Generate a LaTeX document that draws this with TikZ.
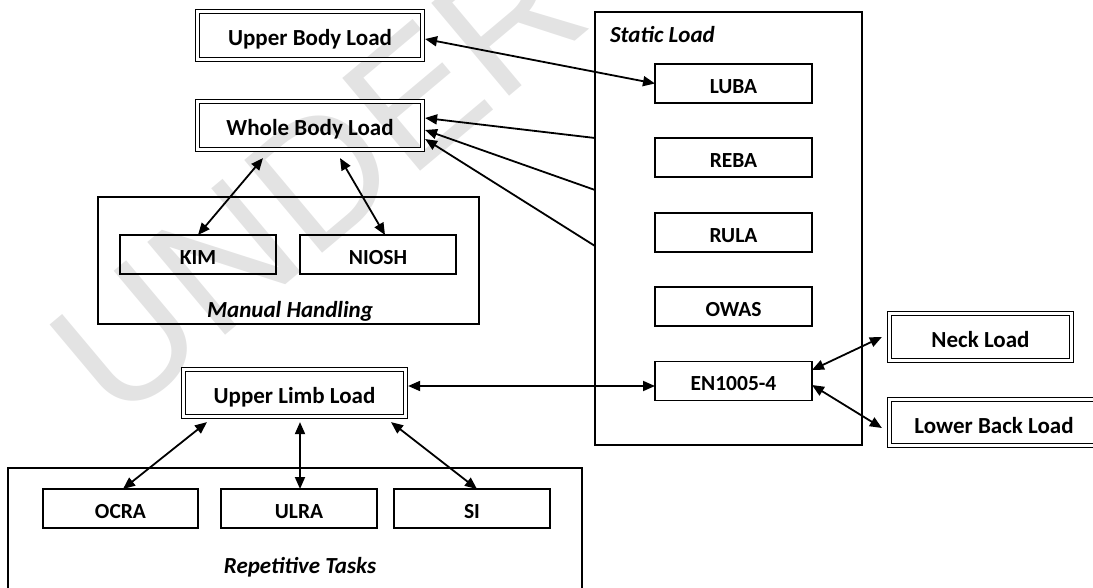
\documentclass[tikz,border=0pt]{standalone}
\usepackage{fontspec}
\setmainfont{Carlito}
\newfontfamily\markfont{Liberation Sans}
\usetikzlibrary{arrows.meta,calc}

\begin{document}
\begin{tikzpicture}[x=1pt,y=-1pt,
  every node/.style={inner sep=0pt,outer sep=0pt},
  loadbox/.style={draw,line width=1.5pt,double=white,double distance=2.2pt,
    outer sep=2.6pt,text height=21pt,text depth=0pt,
    font=\fontsize{23}{23}\selectfont\bfseries},
  methodbox/.style={draw,line width=1.5pt,minimum width=157pt,minimum height=39pt,
    text height=19.4pt,text depth=0pt,
    font=\fontsize{21.5}{21.5}\selectfont\bfseries},
  groupbox/.style={draw,line width=1.5pt},
  grouptitle/.style={font=\fontsize{23}{23}\selectfont\bfseries\itshape},
  watermark/.style={text=black!11,font=\markfont\fontsize{176}{176}\selectfont},
  link/.style={line width=1.8pt,{Triangle[length=12pt,width=10pt]}-{Triangle[length=12pt,width=10pt]}},
  feed/.style={line width=1.8pt,-{Triangle[length=12pt,width=10pt]}}
]
\clip (0,0) rectangle (1093,588);

% review stamp behind the diagram
\node[watermark,anchor=base west,rotate=40] (stamp) at (117,426) {UNDER PEER REVIEW};

% group frames
\node[groupbox,minimum width=267pt,minimum height=433pt] (static) at (728.5,228.5) {};
\node[groupbox,minimum width=381pt,minimum height=127pt] (manual) at (288.5,260.5) {};
\node[groupbox,minimum width=574pt,minimum height=140pt] (repet) at (295,538) {};

\node[grouptitle,anchor=base west] (statict) at (610,43) {Static Load};
\node[grouptitle,anchor=base] (manualt) at (290,317) {Manual Handling};
\node[grouptitle,anchor=base] (repett) at (300,573) {Repetitive Tasks};

% body-region loads
\node[loadbox,minimum width=225pt,minimum height=48pt] (ubl) at (310,35.5) {Upper Body Load};
\node[loadbox,minimum width=225pt,minimum height=48pt] (wbl) at (310,125.5) {Whole Body Load};
\node[loadbox,minimum width=222pt,minimum height=47pt] (ull) at (294.5,393) {Upper Limb Load};
\node[loadbox,minimum width=182pt,minimum height=47pt] (neck) at (980.5,337) {Neck Load};
\node[loadbox,minimum width=209pt,minimum height=46pt] (lbl) at (994,422.5) {Lower Back Load};

% assessment methods
\node[methodbox] (luba) at (733.5,83.5) {LUBA};
\node[methodbox] (reba) at (733.5,157.5) {REBA};
\node[methodbox] (rula) at (733.5,232.5) {RULA};
\node[methodbox] (owas) at (733.5,306.5) {OWAS};
\node[methodbox] (en) at (733.5,381) {EN1005-4};

\node[methodbox,minimum width=156pt] (kim) at (198,254.5) {KIM};
\node[methodbox,minimum width=156pt] (niosh) at (378,254.5) {NIOSH};

\node[methodbox,minimum width=155pt] (ocra) at (120.5,508.5) {OCRA};
\node[methodbox,minimum width=156pt] (ulra) at (299,508.5) {ULRA};
\node[methodbox,minimum width=156pt] (si) at (472,508.5) {SI};

% connectors
\draw[link] ([yshift=-3.5pt]ubl.east) -- (luba.west);
\draw[feed] ($(static.north west)+(0,126)$) -- ([yshift=7.5pt]wbl.east);
\draw[feed] ($(static.north west)+(0,178)$) -- ([yshift=-4.5pt]wbl.east);
\draw[feed] ($(static.north west)+(0,234)$) -- ([yshift=-13.5pt]wbl.east);

\draw[link] ([xshift=-47pt,yshift=-6pt]wbl.south) -- (kim.north);
\draw[link] ([xshift=30pt,yshift=-6pt]wbl.south) -- ([xshift=7pt]niosh.north);

\draw[link] ([yshift=-5pt]en.west) -- ([yshift=-5pt]en.west -| ull.east);
\draw[link] ([yshift=11pt]en.east) -- ([xshift=-5pt]neck.west);
\draw[link] ([yshift=-4pt]en.east) -- ([xshift=-5pt,yshift=-5.5pt]lbl.west);

\draw[link] ([xshift=-87.5pt,yshift=-3pt]ull.south) -- ([xshift=2.5pt]ocra.north);
\draw[link] ([xshift=5.5pt,yshift=-3pt]ull.south) -- ([xshift=1pt]ulra.north);
\draw[link] ([xshift=96.5pt,yshift=-3pt]ull.south) -- ([xshift=5pt]si.north);
\end{tikzpicture}
\end{document}
